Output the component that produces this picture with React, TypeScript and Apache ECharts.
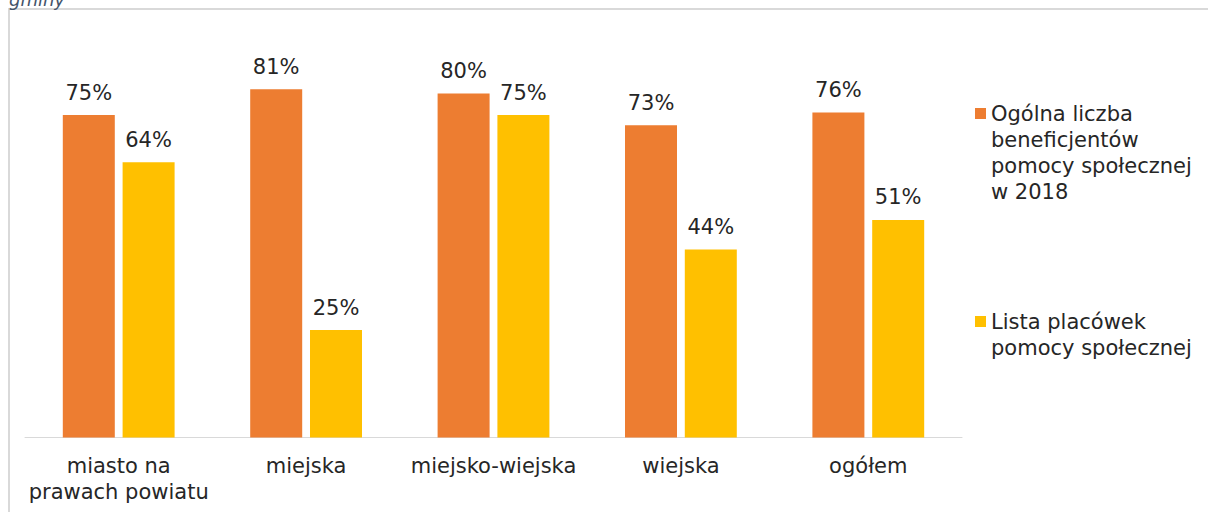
import React, { useEffect, useRef } from "react";
import * as echarts from "echarts";

const categories = [
  "miasto na\nprawach powiatu",
  "miejska",
  "miejsko-wiejska",
  "wiejska",
  "ogółem",
];
const seriesNames = [
  "Ogólna liczba beneficjentów pomocy społecznej w 2018",
  "Lista placówek pomocy społecznej",
];
const legendLines = [
  "Ogólna liczba\nbeneficjentów\npomocy społecznej\nw 2018",
  "Lista placówek\npomocy społecznej",
];
const beneficiaries = [75, 81, 80, 72.6, 75.6];
const facilities = [64, 25, 75, 43.7, 50.6];

const FONT = "DejaVu Sans";
const TEXT = "#262626";
const LINE_H = 26;

export default function App() {
  const ref = useRef<HTMLDivElement>(null);
  useEffect(() => {
    if (!ref.current) return;
    const chart = echarts.init(ref.current, null, { renderer: "svg" });
    const labelCfg = {
      show: true,
      position: "top",
      distance: 12,
      formatter: (p: any) => Math.round(p.value) + "%",
      color: TEXT,
      fontFamily: FONT,
      fontSize: 21,
      lineHeight: 21,
    };
    // icon: an 11px square at the top of a tall transparent box so that it lines up with the first text line
    const iconH = (lines: number) => lines * LINE_H - 15;
    const iconPath = (h: number) =>
      `path://M0,0h11v11h-11z M0,${h - 0.01}h0.01v0.01h-0.01z`;
    const makeLegend = (i: number, lines: number, squareTop: number) => {
      const h = iconH(lines);
      const textTop = h / 2 - (lines * LINE_H) / 2; // negative offset of text box
      return {
        orient: "vertical",
        left: 975,
        top: squareTop + Math.min(0, textTop),
        padding: 0,
        itemWidth: 11,
        itemHeight: h,
        icon: iconPath(h),
        selectedMode: false,
        data: [{ name: seriesNames[i], icon: iconPath(h) }],
        formatter: () => legendLines[i],
        textStyle: {
          color: TEXT,
          fontFamily: FONT,
          fontSize: 21,
          lineHeight: LINE_H,
        },
      };
    };
    chart.setOption({
      animation: false,
      backgroundColor: "#ffffff",
      grid: { left: 25, right: 246, top: 7.5, bottom: 74.5 },
      xAxis: {
        type: "category",
        data: categories,
        axisLine: { show: true, lineStyle: { color: "#d9d9d9", width: 1 } },
        axisTick: { show: false },
        axisLabel: {
          color: TEXT,
          fontFamily: FONT,
          fontSize: 21,
          lineHeight: 26,
          margin: 15,
          interval: 0,
        },
      },
      yAxis: {
        type: "value",
        min: 0,
        max: 100,
        show: false,
        splitLine: { show: false },
      },
      legend: [makeLegend(0, 4, 108), makeLegend(1, 2, 316)],
      graphic: [
        {
          type: "rect",
          shape: { x: 9, y: 9, width: 1400, height: 700 },
          style: { fill: "none", stroke: "#d9d9d9", lineWidth: 2 },
          silent: true,
        },
        {
          type: "text",
          x: 9,
          y: 8.5,
          style: {
            text: "gminy",
            fontFamily: FONT,
            fontStyle: "italic",
            fontSize: 18,
            fill: "#44546A",
            verticalAlign: "bottom",
          },
          silent: true,
        },
      ],
      series: [
        {
          name: seriesNames[0],
          type: "bar",
          data: beneficiaries,
          barWidth: 52,
          barGap: "15%",
          itemStyle: { color: "#ED7D31" },
          label: labelCfg,
        },
        {
          name: seriesNames[1],
          type: "bar",
          data: facilities,
          barWidth: 52,
          barGap: "15%",
          itemStyle: { color: "#FFC000" },
          label: labelCfg,
        },
      ],
    });
    return () => chart.dispose();
  }, []);
  return (
    <div
      ref={ref}
      style={{ position: "absolute", left: 0, top: 0, width: 1208, height: 512 }}
    />
  );
}
